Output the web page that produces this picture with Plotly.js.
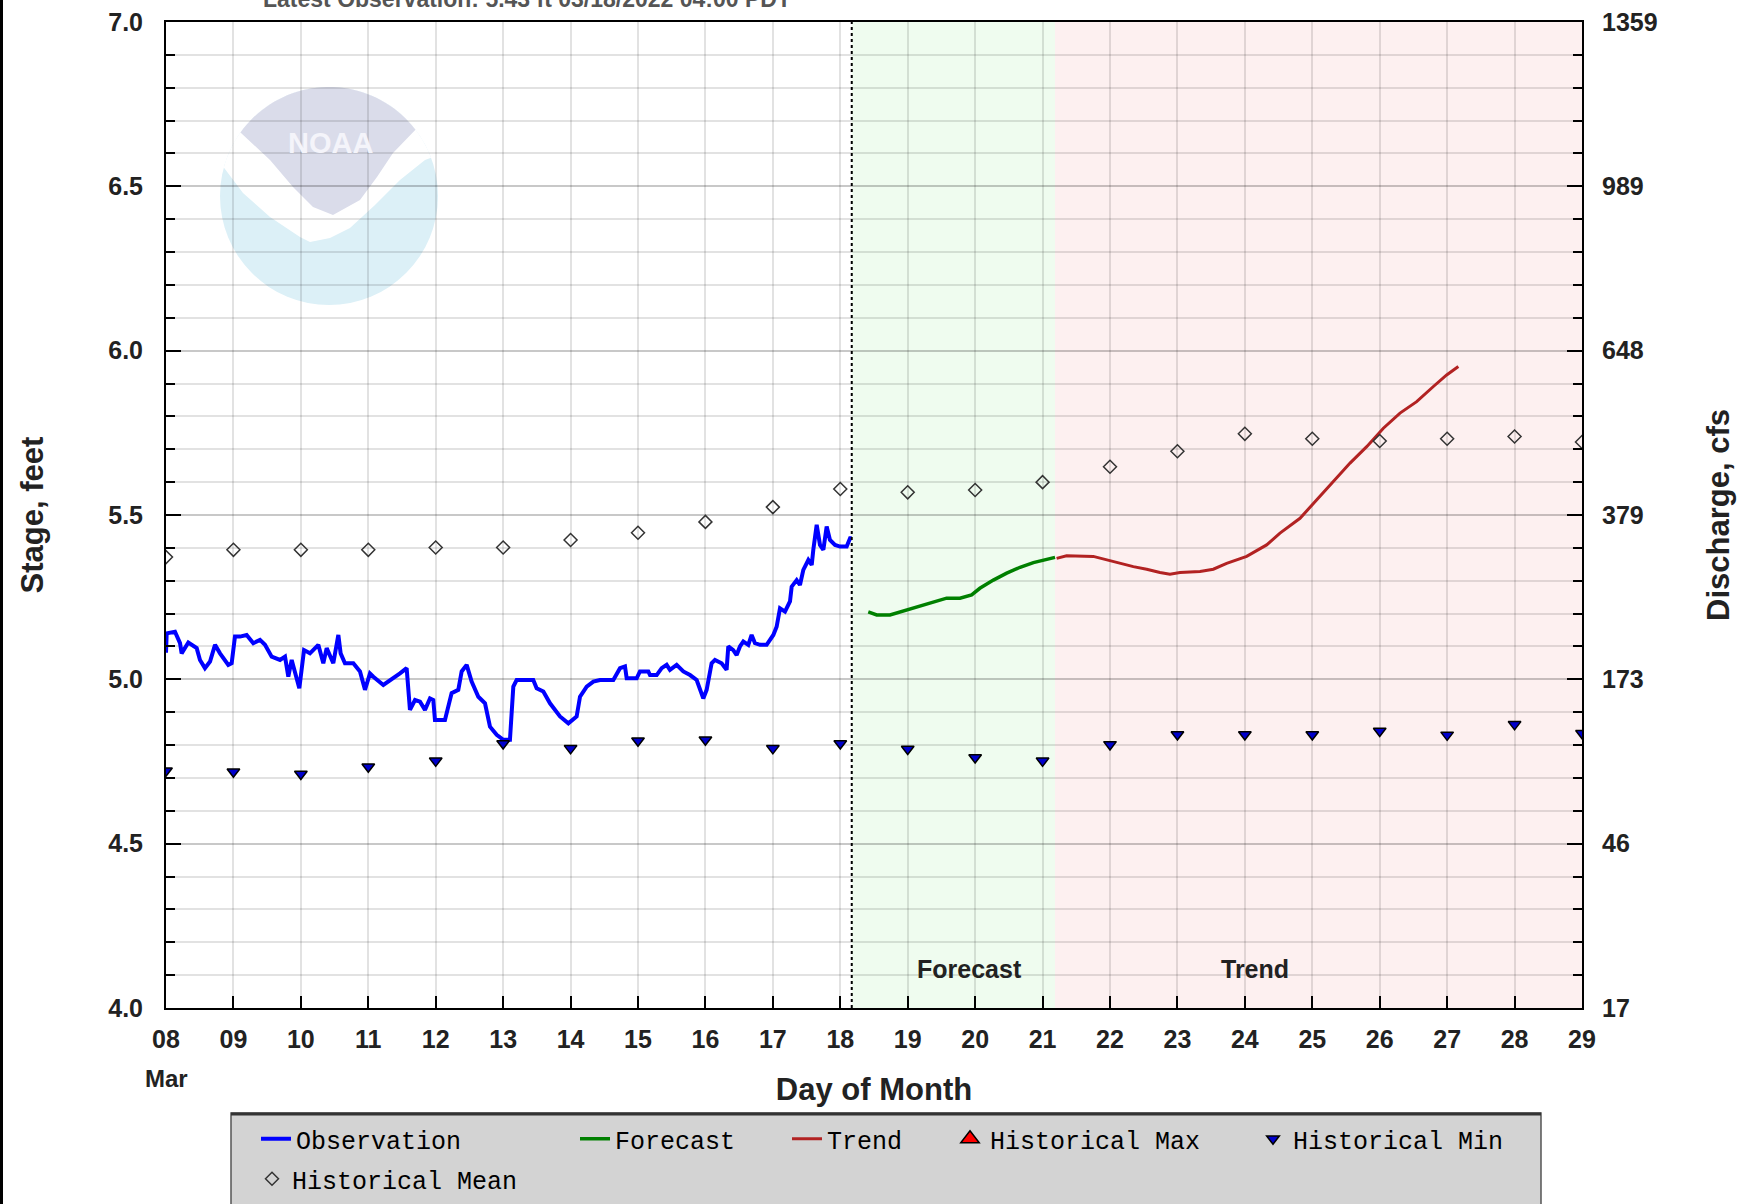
<!DOCTYPE html>
<html><head><meta charset="utf-8">
<script src="https://cdn.plot.ly/plotly-3.0.1.min.js"></script>
<style>html,body{margin:0;padding:0;background:#fff;} #chart{width:1737px;height:1204px;}</style>
</head><body><div id="chart"></div>
<script>
// ---------------- data ----------------
const obsDay = [8.0, 8.01, 8.133, 8.208, 8.232, 8.331, 8.455, 8.504, 8.578, 8.653, 8.727, 8.801, 8.924, 8.974, 9.023, 9.097, 9.196, 9.295, 9.394, 9.468, 9.567, 9.691, 9.765, 9.814, 9.864, 9.938, 9.977, 10.047, 10.135, 10.259, 10.333, 10.383, 10.481, 10.556, 10.59, 10.654, 10.778, 10.877, 10.951, 11.025, 11.075, 11.223, 11.371, 11.47, 11.569, 11.618, 11.693, 11.767, 11.841, 11.915, 11.964, 11.989, 12.137, 12.236, 12.335, 12.385, 12.459, 12.533, 12.632, 12.731, 12.805, 12.904, 13.003, 13.101, 13.151, 13.2, 13.447, 13.497, 13.596, 13.695, 13.843, 13.967, 14.09, 14.14, 14.239, 14.338, 14.436,
  14.51, 14.634, 14.733, 14.807, 14.832, 14.98, 15.029, 15.153, 15.178, 15.277, 15.351, 15.425, 15.474, 15.573, 15.672, 15.771, 15.87, 15.919, 15.968, 16.018, 16.092, 16.141, 16.24, 16.314, 16.339, 16.413, 16.463, 16.512, 16.562, 16.636, 16.685, 16.735, 16.809, 16.908, 16.957, 17.007, 17.056, 17.106, 17.18, 17.254, 17.279, 17.353, 17.402, 17.452, 17.526, 17.576, 17.6, 17.65, 17.699, 17.749, 17.798, 17.847, 17.922, 17.996, 18.095, 18.145, 18.17];
const obsStage = [5.081, 5.14, 5.145, 5.11, 5.079, 5.112, 5.095, 5.059, 5.034, 5.054, 5.105, 5.079, 5.044, 5.049, 5.13, 5.13, 5.135, 5.11, 5.12, 5.105, 5.069, 5.059, 5.069, 5.008, 5.059, 4.998, 4.973, 5.089, 5.079, 5.105, 5.049, 5.095, 5.049, 5.135, 5.079, 5.049, 5.049, 5.024, 4.968, 5.018, 5.008, 4.983, 5.003, 5.018, 5.034, 4.907, 4.937, 4.932, 4.907, 4.942, 4.937, 4.876, 4.876, 4.958, 4.968, 5.024, 5.044, 4.993, 4.947, 4.927, 4.856, 4.831, 4.816, 4.816, 4.978, 4.998, 4.998, 4.973, 4.963, 4.927, 4.887, 4.866, 4.887, 4.947, 4.978, 4.993, 4.998,
  4.998, 4.998, 5.034, 5.039, 5.003, 5.003, 5.024, 5.024, 5.013, 5.013, 5.034, 5.044, 5.029, 5.044, 5.024, 5.013, 4.998, 4.973, 4.942, 4.968, 5.049, 5.059, 5.049, 5.029, 5.1, 5.089, 5.074, 5.1, 5.115, 5.105, 5.135, 5.11, 5.105, 5.105, 5.12, 5.135, 5.16, 5.216, 5.206, 5.237, 5.282, 5.302, 5.287, 5.333, 5.363, 5.348, 5.394, 5.47, 5.409, 5.394, 5.465, 5.424, 5.409, 5.404, 5.404, 5.429, 5.429];

const fcstDay = [18.415, 18.54, 18.737, 18.984, 19.18, 19.38, 19.577, 19.775, 19.948, 20.07, 20.27, 20.468, 20.666, 20.864, 21.06, 21.185];
const fcstStage = [5.205, 5.196, 5.196, 5.211, 5.223, 5.237, 5.247, 5.247, 5.257, 5.277, 5.302, 5.323, 5.341, 5.355, 5.365, 5.371];

const trendDay = [21.208, 21.356, 21.752, 21.95, 22.148, 22.346, 22.544, 22.741, 22.889, 23.038, 23.335, 23.532, 23.73, 24.027, 24.323, 24.521, 24.818, 25.065, 25.312, 25.56, 25.807, 26.054, 26.301, 26.548, 26.796, 26.993, 27.166];
const trendStage = [5.368, 5.376, 5.374, 5.363, 5.353, 5.343, 5.335, 5.325, 5.32, 5.325, 5.328, 5.335, 5.353, 5.374, 5.409, 5.445, 5.49, 5.546, 5.602, 5.658, 5.708, 5.764, 5.81, 5.845, 5.891, 5.926, 5.952];

const histDay  = [8, 9, 10, 11, 12, 13, 14, 15, 16, 17, 18, 19, 20, 21, 22, 23, 24, 25, 26, 27, 28, 29];
const histMean = [5.372, 5.394, 5.394, 5.394, 5.401, 5.401, 5.424, 5.446, 5.479, 5.524, 5.579, 5.569, 5.576, 5.600, 5.647, 5.694, 5.747, 5.732, 5.725, 5.732, 5.739, 5.722];
const histMin  = [4.722, 4.719, 4.712, 4.734, 4.752, 4.805, 4.790, 4.813, 4.816, 4.790, 4.805, 4.788, 4.762, 4.752, 4.802, 4.832, 4.832, 4.832, 4.843, 4.831, 4.863, 4.836];
// historical maxima lie off the plotted range: no values shown
const histMax  = [null, null, null, null, null, null, null, null, null, null, null, null, null, null, null, null, null, null, null, null, null, null];

const dayTicks  = [8, 9, 10, 11, 12, 13, 14, 15, 16, 17, 18, 19, 20, 21, 22, 23, 24, 25, 26, 27, 28, 29];
const dayLabels = ['08', '09', '10', '11', '12', '13', '14', '15', '16', '17', '18', '19', '20', '21', '22', '23', '24', '25', '26', '27', '28', '29'];
const stageTicks  = [4.0, 4.5, 5.0, 5.5, 6.0, 6.5, 7.0];
const stageLabels = ['4.0', '4.5', '5.0', '5.5', '6.0', '6.5', '7.0'];
const dischargeLabels = ['17', '46', '173', '379', '648', '989', '1359'];

// ---------------- layout helpers ----------------
const W = 1737, H = 1204, ML = 166, MR = 155, MT = 22, MB = 196;
const PW = W - ML - MR, PH = H - MT - MB;
const px = x => (x - ML) / PW;           // pixel -> paper x
const py = y => (H - MB - y) / PH;       // pixel -> paper y
const SANS = 'Liberation Sans, Arial, Helvetica, sans-serif';
const MONO = 'Liberation Mono, DejaVu Sans Mono, monospace';
const GRID = 'rgba(0,0,0,0.115)';

const obsEnd = obsDay[obsDay.length - 1];
const fcstEnd = fcstDay[fcstDay.length - 1];
const xEnd = dayTicks[dayTicks.length - 1];

// NOAA watermark geometry (decoration, pixel space)
const C = {x: 329, y: 196, r: 109};
function arcPts(a1, a2, n) {
  const pts = [];
  for (let i = 0; i <= n; i++) {
    const a = (a1 + (a2 - a1) * i / n) * Math.PI / 180;
    pts.push([C.x + C.r * Math.cos(a), C.y + C.r * Math.sin(a)]);
  }
  return pts;
}
function pathOf(pts) {
  return 'M' + pts.map(p => px(p[0]).toFixed(5) + ',' + py(p[1]).toFixed(5)).join(' L') + ' Z';
}
const whitePts = arcPts(-164.8, -20.6, 40).concat([[425,160],[400,180],[375,205],[350,228],[330,238],[310,242],[300,237],[270,217],[243,193]]);
const lavPts = arcPts(-144.3, -37.5, 40).concat([[393,153],[377,177],[360,200],[333,215],[313,207],[293,187],[270,160]]);

// ---------------- traces ----------------
const traces = [
  {type:'scatter', mode:'lines', name:'Observation', x:obsDay, y:obsStage,
   line:{color:'#0000ff', width:4}, legend:'legend'},
  {type:'scatter', mode:'lines', name:'Forecast', x:fcstDay, y:fcstStage,
   line:{color:'#008000', width:3.5}, legend:'legend2'},
  {type:'scatter', mode:'lines', name:'Trend', x:trendDay, y:trendStage,
   line:{color:'#b22222', width:3}, legend:'legend3'},
  {type:'scatter', mode:'markers', name:'Historical Max', x:histDay, y:histMax,
   marker:{symbol:'triangle-up', color:'#ff0000', size:16, line:{color:'#000', width:1.5}}, legend:'legend4'},
  {type:'scatter', mode:'markers', name:'Historical Min', x:histDay, y:histMin,
   marker:{symbol:'triangle-down', color:'#0000cc', size:11, line:{color:'#000', width:1.5}}, legend:'legend5'},
  {type:'scatter', mode:'markers', name:'Historical Mean', x:histDay, y:histMean,
   marker:{symbol:'diamond-open', color:'#333', size:10, line:{color:'#333', width:1.5}}, legend:'legend6'},
  // discharge (right) axis carrier: no visible marks
  {type:'scatter', mode:'markers', name:'Discharge', x:[null], y:[null], yaxis:'y2',
   showlegend:false, hoverinfo:'skip', marker:{opacity:0}}
];

function leg(xPix, yPix) {
  return {x: px(xPix), y: py(yPix), xanchor:'left', yanchor:'middle', orientation:'h',
    bgcolor:'rgba(0,0,0,0)', borderwidth:0, font:{family:MONO, size:25, color:'#000'}};
}

const tickFont = {family:SANS, size:25, color:'#222', weight:'bold'};
const titleFont = {family:SANS, size:31, color:'#222', weight:'bold'};

const layout = {
  width: W, height: H,
  margin: {l:ML, r:MR, t:MT, b:MB, pad:0, autoexpand:false},
  paper_bgcolor:'#ffffff', plot_bgcolor:'rgba(0,0,0,0)',
  showlegend: true,
  legend: leg(256, 1139), legend2: leg(575, 1139), legend3: leg(787, 1139),
  legend4: leg(950, 1139), legend5: leg(1253, 1139), legend6: leg(252, 1179),
  xaxis: {
    range:[dayTicks[0], xEnd], tickmode:'array', tickvals:dayTicks, ticktext:dayLabels,
    ticks:'inside', ticklen:12, tickwidth:2, tickcolor:'#000',
    showgrid:true, gridcolor:GRID, gridwidth:2, zeroline:false,
    showline:true, linecolor:'#000', linewidth:2, mirror:true,
    tickfont:tickFont, ticklabelstandoff:8,
    title:{text:'Day of Month', font:titleFont, standoff:26}
  },
  yaxis: {
    range:[4, 7], tickmode:'array', tickvals:stageTicks, ticktext:stageLabels,
    ticks:'inside', ticklen:15, tickwidth:2, tickcolor:'#000',
    showgrid:true, gridcolor:GRID, gridwidth:2, zeroline:false,
    showline:true, linecolor:'#000', linewidth:2,
    minor:{tickmode:'linear', tick0:4, dtick:0.1, ticks:'inside', ticklen:9, tickwidth:2, tickcolor:'#000',
           showgrid:true, gridcolor:GRID, gridwidth:2},
    tickfont:tickFont, ticklabelstandoff:16,
    title:{text:'Stage, feet', font:titleFont, standoff:55}
  },
  yaxis2: {
    overlaying:'y', side:'right', anchor:'x',
    range:[4, 7], tickmode:'array', tickvals:stageTicks, ticktext:dischargeLabels,
    ticks:'inside', ticklen:15, tickwidth:2, tickcolor:'#000',
    showgrid:false, zeroline:false, showline:true, linecolor:'#000', linewidth:2,
    minor:{tickmode:'linear', tick0:4, dtick:0.1, ticks:'inside', ticklen:9, tickwidth:2, tickcolor:'#000', showgrid:false},
    tickfont:tickFont, ticklabelstandoff:13,
    title:{text:'Discharge, cfs', font:titleFont, standoff:51}
  },
  shapes: [
    // forecast / trend shading
    {type:'rect', xref:'x', yref:'paper', x0:obsEnd, x1:fcstEnd, y0:0, y1:1,
     fillcolor:'#effcef', line:{width:0}, layer:'below'},
    {type:'rect', xref:'x', yref:'paper', x0:fcstEnd, x1:xEnd, y0:0, y1:1,
     fillcolor:'#fdf0f0', line:{width:0}, layer:'below'},
    // NOAA watermark
    {type:'circle', xref:'paper', yref:'paper', x0:px(C.x - C.r), x1:px(C.x + C.r), y0:py(C.y + C.r), y1:py(C.y - C.r),
     fillcolor:'#dcf0f7', line:{width:0}, layer:'below'},
    {type:'path', xref:'paper', yref:'paper', path:pathOf(whitePts), fillcolor:'#ffffff', line:{width:0}, layer:'below'},
    {type:'path', xref:'paper', yref:'paper', path:pathOf(lavPts), fillcolor:'#dadcea', line:{width:0}, layer:'below'},
    // observation / forecast divider
    {type:'line', xref:'x', yref:'paper', x0:obsEnd, x1:obsEnd, y0:0, y1:1,
     line:{color:'#000', width:2, dash:'dot'}, layer:'above'},
    // legend box
    {type:'rect', xref:'paper', yref:'paper', x0:px(231), x1:px(1541), y0:py(1214), y1:py(1113),
     fillcolor:'#d3d3d3', line:{color:'#555', width:1.5}, layer:'above'},
    {type:'line', xref:'paper', yref:'paper', x0:px(231), x1:px(1541), y0:py(1114), y1:py(1114),
     line:{color:'#333', width:3}, layer:'above'},
    // left page border
    {type:'line', xref:'paper', yref:'paper', x0:px(1.5), x1:px(1.5), y0:py(H + 5), y1:py(-5),
     line:{color:'#000', width:3}, layer:'above'}
  ],
  annotations: [
    {text:'Forecast', xref:'x', yref:'paper', x:19.92, y:py(969), xanchor:'center', yanchor:'middle', showarrow:false,
     font:{family:SANS, size:25, color:'#222', weight:'bold'}},
    {text:'Trend', xref:'x', yref:'paper', x:24.15, y:py(969), xanchor:'center', yanchor:'middle', showarrow:false,
     font:{family:SANS, size:25, color:'#222', weight:'bold'}},
    {text:'Mar', xref:'x', yref:'paper', x:dayTicks[0], y:py(1078), xanchor:'center', yanchor:'middle', showarrow:false,
     font:{family:SANS, size:24, color:'#222', weight:'bold'}},
    {text:'NOAA', xref:'paper', yref:'paper', x:px(330), y:py(143), xanchor:'center', yanchor:'middle', showarrow:false,
     font:{family:SANS, size:29, color:'#f4f4fa', weight:'bold'}},
    {text:'Latest Observation: 5.43 ft 03/18/2022 04:00 PDT', xref:'paper', yref:'paper',
     x:px(527), y:py(14), xanchor:'center', yanchor:'bottom', showarrow:false,
     font:{family:SANS, size:23, color:'#555', weight:'bold'}}
  ]
};

Plotly.newPlot('chart', traces, layout, {displayModeBar:false, staticPlot:true});
</script>
</body></html>
